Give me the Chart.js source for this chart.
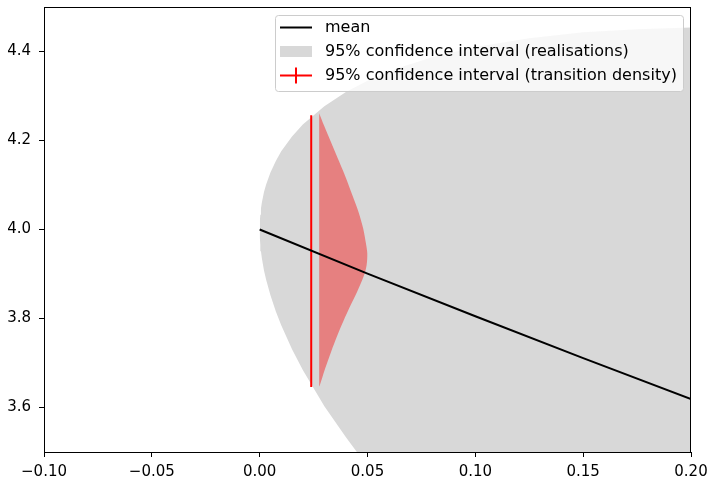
<!DOCTYPE html>
<html>
<head>
<meta charset="utf-8">
<script src="https://cdn.jsdelivr.net/npm/chart.js@4/dist/chart.umd.min.js"></script>
<style>
  body { margin: 0; background: #fff; }
  #wrap { width: 711px; height: 478px; }
</style>
</head>
<body>
<div id="wrap"><canvas id="chart" width="711" height="478"></canvas></div>
<script>
// mean path
const meanT = [0, 0.05, 0.1, 0.15, 0.2];
const meanY = [4.0, 3.901, 3.805, 3.711, 3.619];

// 95% band of the realisations
const bandT = [0, 0.0001, 0.0003, 0.0006, 0.001, 0.002, 0.003, 0.005, 0.0075, 0.01, 0.015, 0.02,
    0.03, 0.04, 0.05, 0.065, 0.08, 0.1, 0.125, 0.15, 0.175, 0.2];
const bandUpper = [4.0, 4.020, 4.033, 4.047, 4.060, 4.084, 4.101, 4.128, 4.154, 4.176, 4.209, 4.236,
    4.277, 4.309, 4.334, 4.364, 4.387, 4.410, 4.430, 4.443, 4.450, 4.454];
const bandLower = [4.0, 3.980, 3.966, 3.951, 3.936, 3.908, 3.887, 3.852, 3.816, 3.785, 3.731, 3.684,
    3.603, 3.533, 3.468, 3.381, 3.300, 3.200, 3.086, 2.980, 2.880, 2.785];

// transition density (violin outline, right edge) and its 95% interval
const violinBase = 0.0276;
const violinY = [4.261, 4.234, 4.197, 4.160, 4.122, 4.077, 4.040, 4.002, 3.965, 3.946, 3.920,
    3.897, 3.860, 3.823, 3.796, 3.763, 3.725, 3.688, 3.665, 3.650, 3.647];
const violinX = [0.0276, 0.0298, 0.0330, 0.0362, 0.0395, 0.0430, 0.0458, 0.0480, 0.0494, 0.0499, 0.0496,
    0.0484, 0.0452, 0.0415, 0.0390, 0.0361, 0.0331, 0.0304, 0.0289, 0.0279, 0.0276];
const ciT = 0.0239;
const ciLow = 3.646;
const ciHigh = 4.257;

const xTicks = [-0.10, -0.05, 0.00, 0.05, 0.10, 0.15, 0.20];
const yTicks = [3.6, 3.8, 4.0, 4.2, 4.4];

const labels = ["mean", "95% confidence interval (realisations)", "95% confidence interval (transition density)"];

const FONT = "DejaVu Sans";
const GRAY = "#d8d8d8";

const xy = (xs, ys) => xs.map((x, i) => ({ x: x, y: ys[i] }));

// top/right spines
const frame = {
    id: "frame",
    afterDraw(chart) {
        const { ctx, chartArea: a } = chart;
        ctx.save();
        ctx.strokeStyle = "#000";
        ctx.lineWidth = 1;
        ctx.strokeRect(a.left + 0.5, a.top + 0.5, a.right - a.left - 1, a.bottom - a.top);
        ctx.restore();
    },
};

// legend inside the axes, upper right like matplotlib
const boxLegend = {
    id: "boxLegend",
    afterDatasetsDraw(chart) {
        const ctx = chart.ctx;
        const x0 = 275, y0 = 15, w = 408, h = 76;
        ctx.save();
        ctx.beginPath();
        ctx.roundRect(x0 + 0.5, y0 + 0.5, w, h, 3);
        ctx.fillStyle = "rgba(255,255,255,0.8)";
        ctx.fill();
        ctx.strokeStyle = "#cccccc";
        ctx.lineWidth = 1;
        ctx.stroke();

        const rows = [27.5, 51.5, 75.5];
        const hx0 = 280, hx1 = 312;
        // mean
        ctx.strokeStyle = "#000";
        ctx.lineWidth = 2;
        ctx.beginPath();
        ctx.moveTo(hx0, rows[0]);
        ctx.lineTo(hx1, rows[0]);
        ctx.stroke();
        // band patch
        ctx.fillStyle = GRAY;
        ctx.fillRect(hx0, rows[1] - 5.5, hx1 - hx0, 11);
        // errorbar handle
        ctx.strokeStyle = "#ff0000";
        ctx.beginPath();
        ctx.moveTo(hx0, rows[2]);
        ctx.lineTo(hx1, rows[2]);
        ctx.moveTo((hx0 + hx1) / 2, rows[2] - 8);
        ctx.lineTo((hx0 + hx1) / 2, rows[2] + 8);
        ctx.stroke();

        ctx.fillStyle = "#000";
        ctx.font = "16px '" + FONT + "'";
        ctx.textBaseline = "middle";
        ctx.textAlign = "left";
        labels.forEach((t, i) => ctx.fillText(t, 325, rows[i]));
        ctx.restore();
    },
};

new Chart(document.getElementById("chart").getContext("2d"), {
    type: "line",
    data: {
        datasets: [
            {
                label: labels[0],
                data: xy(meanT, meanY),
                borderColor: "#000",
                borderWidth: 2,
                pointRadius: 0,
                fill: false,
            },
            {
                label: labels[2],
                data: [{ x: ciT, y: ciLow }, { x: ciT, y: ciHigh }],
                borderColor: "#ff0000",
                borderWidth: 2,
                pointRadius: 0,
                fill: false,
            },
            {
                label: "density",
                data: [{ x: violinBase, y: violinY[0] }].concat(xy(violinX, violinY)),
                borderWidth: 0,
                borderColor: "rgba(0,0,0,0)",
                backgroundColor: "#e68080",
                pointRadius: 0,
                tension: 0.3,
                fill: "shape",
            },
            {
                label: labels[1],
                data: xy(bandT, bandUpper),
                borderWidth: 0,
                borderColor: "rgba(0,0,0,0)",
                backgroundColor: GRAY,
                pointRadius: 0,
                fill: "+1",
            },
            {
                label: "lower",
                data: xy(bandT, bandLower),
                borderWidth: 0,
                borderColor: "rgba(0,0,0,0)",
                pointRadius: 0,
                fill: false,
            },
        ],
    },
    options: {
        responsive: false,
        animation: false,
        parsing: false,
        layout: { padding: { top: 7, right: 20, left: 0, bottom: 0 } },
        elements: { line: { tension: 0 } },
        plugins: {
            legend: { display: false },
            tooltip: { enabled: false },
        },
        scales: {
            x: {
                type: "linear",
                min: -0.1,
                max: 0.2,
                afterBuildTicks: (axis) => { axis.ticks = xTicks.map((v) => ({ value: v })); },
                afterFit: (axis) => {
                    axis.height = 26;
                    axis.paddingLeft = 0;
                    axis.paddingRight = 0;
                },
                ticks: {
                    color: "#000",
                    font: { family: FONT, size: 15 },
                    padding: 6,
                    maxRotation: 0,
                    callback: (v) => v.toFixed(2).replace("-", "\u2212"),
                },
                grid: { drawOnChartArea: false, tickLength: 5, color: "#000", tickWidth: 1 },
                border: { color: "#000", width: 1 },
            },
            y: {
                type: "linear",
                min: 3.5,
                max: 4.5,
                afterBuildTicks: (axis) => { axis.ticks = yTicks.map((v) => ({ value: v })); },
                afterFit: (axis) => {
                    axis.width = 44;
                    axis.paddingTop = 0;
                    axis.paddingBottom = 0;
                },
                ticks: {
                    color: "#000",
                    font: { family: FONT, size: 15 },
                    padding: 8,
                    callback: (v) => v.toFixed(1),
                },
                grid: { drawOnChartArea: false, tickLength: 5, color: "#000", tickWidth: 1 },
                border: { color: "#000", width: 1 },
            },
        },
    },
    plugins: [frame, boxLegend],
});
</script>
</body>
</html>
